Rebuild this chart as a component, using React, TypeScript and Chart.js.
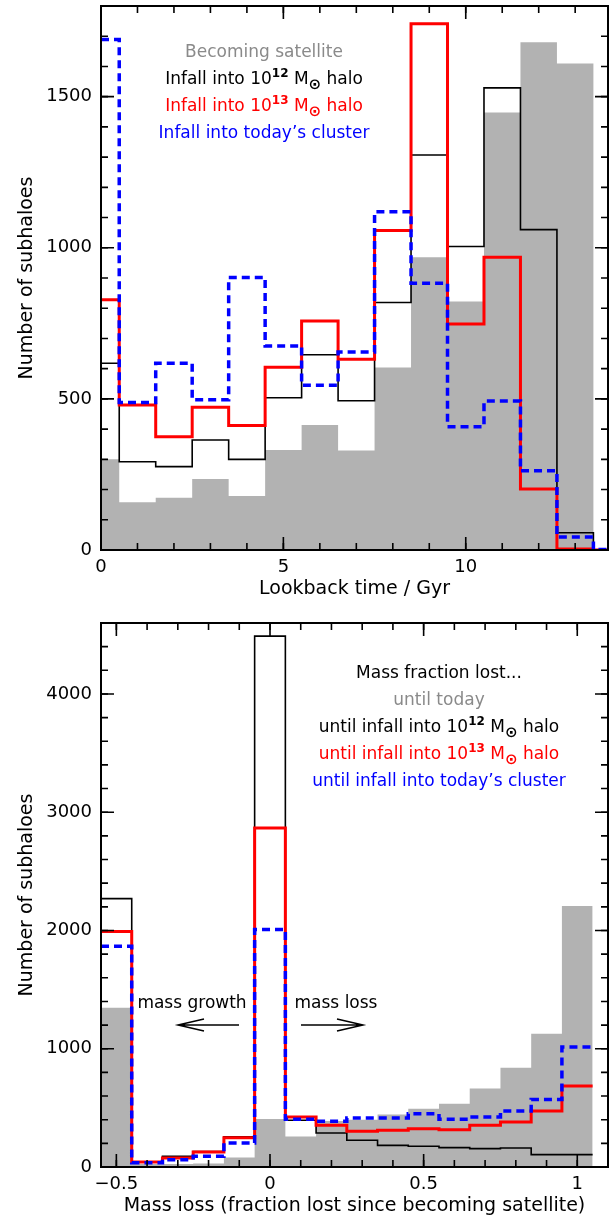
import React, { useEffect, useRef } from "react";
import { Chart, registerables } from "chart.js";

Chart.register(...registerables);

// ---------- Top panel: lookback time histograms (bin width 1 Gyr) ----------
const timeBins = [0, 1, 2, 3, 4, 5, 6, 7, 8, 9, 10, 11, 12, 13, 14];
const timeSatellite = [300, 158, 173, 235, 179, 331, 414, 329, 604, 969, 822, 1448, 1680, 1610, 0];
const time1e12 = [618, 292, 276, 364, 300, 504, 646, 494, 819, 1307, 1004, 1529, 1060, 57, 0];
const time1e13 = [828, 480, 375, 472, 412, 605, 758, 631, 1057, 1741, 748, 969, 202, 3, 0];
const timeCluster = [1689, 488, 618, 497, 902, 675, 545, 655, 1119, 883, 408, 493, 262, 43, 2];
const timeXTicks = [0, 5, 10];
const timeYTicks = [0, 500, 1000, 1500];

// ---------- Bottom panel: mass loss histograms (bin width 0.1) ----------
const massBins = [-0.5, -0.4, -0.3, -0.2, -0.1, 0.0, 0.1, 0.2, 0.3, 0.4, 0.5, 0.6, 0.7, 0.8, 0.9, 1.0];
const massToday = [1347, 25, 25, 30, 80, 405, 257, 390, 400, 443, 493, 535, 663, 840, 1127, 2206];
const mass1e12 = [2269, 40, 90, 130, 255, 4489, 395, 288, 226, 183, 175, 164, 155, 161, 105, 105];
const mass1e13 = [1992, 42, 76, 127, 248, 2866, 423, 352, 302, 310, 324, 316, 352, 381, 474, 685];
const massCluster = [1866, 35, 62, 90, 203, 2009, 403, 386, 414, 414, 451, 403, 423, 474, 570, 1014];
const massXTicks = [-0.5, 0, 0.5, 1];
const massYTicks = [0, 1000, 2000, 3000, 4000];

const GRAY_FILL = "#b2b2b2";
const GRAY_TEXT = "#8a8a8a";
const FONT = '"DejaVu Sans", sans-serif';

type Seg = { t: string; sup?: boolean; sub?: boolean };
type Line = { segs: Seg[]; color: string };

const topLegend: Line[] = [
  { segs: [{ t: "Becoming satellite" }], color: GRAY_TEXT },
  { segs: [{ t: "Infall into 10" }, { t: "12", sup: true }, { t: " M" }, { t: "\u2299", sub: true }, { t: " halo" }], color: "#000000" },
  { segs: [{ t: "Infall into 10" }, { t: "13", sup: true }, { t: " M" }, { t: "\u2299", sub: true }, { t: " halo" }], color: "#ff0000" },
  { segs: [{ t: "Infall into today\u2019s cluster" }], color: "#0000ff" },
];
const bottomLegend: Line[] = [
  { segs: [{ t: "Mass fraction lost..." }], color: "#000000" },
  { segs: [{ t: "until today" }], color: GRAY_TEXT },
  { segs: [{ t: "until infall into 10" }, { t: "12", sup: true }, { t: " M" }, { t: "\u2299", sub: true }, { t: " halo" }], color: "#000000" },
  { segs: [{ t: "until infall into 10" }, { t: "13", sup: true }, { t: " M" }, { t: "\u2299", sub: true }, { t: " halo" }], color: "#ff0000" },
  { segs: [{ t: "until infall into today\u2019s cluster" }], color: "#0000ff" },
];

function stepPoints(centers: number[], values: number[], width: number, lo: number, hi: number) {
  const pts = centers.map((c, i) => ({ x: Math.max(c - width / 2, lo), y: values[i] }));
  const last = centers.length - 1;
  pts.push({ x: Math.min(centers[last] + width / 2, hi), y: values[last] });
  return pts;
}

function fmt(v: number) {
  if (v < 0) return "\u2212" + String(-v);
  return String(v);
}

function drawRich(ctx: CanvasRenderingContext2D, line: Line, cx: number, baseline: number, size: number) {
  const main = `${size}px ${FONT}`;
  const sup = `bold ${Math.round(size * 0.72)}px ${FONT}`;
  const sub = `bold ${Math.round(size * 0.9)}px ${FONT}`;
  const fontOf = (s: Seg) => (s.sup ? sup : s.sub ? sub : main);
  let total = 0;
  const widths = line.segs.map((s) => {
    ctx.font = fontOf(s);
    const w = ctx.measureText(s.t).width;
    total += w;
    return w;
  });
  let x = cx - total / 2;
  ctx.fillStyle = line.color;
  ctx.textAlign = "left";
  ctx.textBaseline = "alphabetic";
  line.segs.forEach((s, i) => {
    ctx.font = fontOf(s);
    const dy = s.sup ? -size * 0.4 : s.sub ? size * 0.3 : 0;
    ctx.fillText(s.t, x, baseline + dy);
    x += widths[i];
  });
}

type PanelCfg = {
  xMajor: number[];
  xMinorStep: number;
  xMinorFrom: number;
  yMajor: number[];
  yMinorStep: number;
  xTitle: string;
  yTitle: string;
  legend: Line[];
  legendX: number;
  legendY0: number;
  legendDy: number;
  extra?: (ctx: CanvasRenderingContext2D) => void;
};

function framePlugin(cfg: PanelCfg) {
  return {
    id: "frame",
    afterDraw(chart: any) {
      const { ctx, chartArea: a, scales } = chart;
      const xs = scales.x;
      const ys = scales.y;
      ctx.save();
      ctx.strokeStyle = "#000";
      ctx.lineWidth = 1.6;
      const majorLen = 13;
      const minorLen = 7;
      const xMinors: number[] = [];
      for (let v = cfg.xMinorFrom; v <= xs.max + 1e-9; v += cfg.xMinorStep) xMinors.push(Math.round(v * 1000) / 1000);
      const drawX = (v: number, len: number) => {
        const px = xs.getPixelForValue(v);
        if (px < a.left + 1 || px > a.right - 1) return;
        ctx.beginPath();
        ctx.moveTo(px, a.bottom);
        ctx.lineTo(px, a.bottom - len);
        ctx.moveTo(px, a.top);
        ctx.lineTo(px, a.top + len);
        ctx.stroke();
      };
      xMinors.forEach((v) => drawX(v, minorLen));
      cfg.xMajor.forEach((v) => drawX(v, majorLen));
      const drawY = (v: number, len: number) => {
        const py = ys.getPixelForValue(v);
        if (py < a.top + 1 || py > a.bottom - 1) return;
        ctx.beginPath();
        ctx.moveTo(a.left, py);
        ctx.lineTo(a.left + len, py);
        ctx.moveTo(a.right, py);
        ctx.lineTo(a.right - len, py);
        ctx.stroke();
      };
      for (let v = 0; v <= ys.max; v += cfg.yMinorStep) drawY(v, minorLen);
      cfg.yMajor.forEach((v) => drawY(v, majorLen));
      ctx.lineWidth = 2;
      ctx.strokeRect(a.left, a.top, a.right - a.left, a.bottom - a.top);
      ctx.fillStyle = "#000";
      ctx.font = `18px ${FONT}`;
      ctx.textAlign = "center";
      ctx.textBaseline = "middle";
      cfg.xMajor.forEach((v) => ctx.fillText(fmt(v), xs.getPixelForValue(v), a.bottom + 17));
      ctx.textAlign = "right";
      cfg.yMajor.forEach((v) => ctx.fillText(fmt(v), a.left - 9, ys.getPixelForValue(v)));
      ctx.font = `19px ${FONT}`;
      ctx.textAlign = "center";
      ctx.fillText(cfg.xTitle, (a.left + a.right) / 2, a.bottom + 39);
      ctx.save();
      ctx.translate(27, (a.top + a.bottom) / 2);
      ctx.rotate(-Math.PI / 2);
      ctx.fillText(cfg.yTitle, 0, 0);
      ctx.restore();
      cfg.legend.forEach((ln, i) => drawRich(ctx, ln, cfg.legendX, cfg.legendY0 + i * cfg.legendDy, 17));
      if (cfg.extra) cfg.extra(ctx);
      ctx.restore();
    },
  };
}

function makeDatasets(centers: number[], width: number, lo: number, hi: number, gray: number[], black: number[], red: number[], blue: number[]) {
  return [
    {
      data: stepPoints(centers, blue, width, lo, hi),
      borderColor: "#0000ff",
      borderWidth: 3.5,
      borderDash: [8, 5],
      stepped: true,
      pointRadius: 0,
      fill: false,
      order: 0,
    },
    {
      data: stepPoints(centers, red, width, lo, hi),
      borderColor: "#ff0000",
      borderWidth: 3,
      stepped: true,
      pointRadius: 0,
      fill: false,
      order: 1,
    },
    {
      data: stepPoints(centers, black, width, lo, hi),
      borderColor: "#000000",
      borderWidth: 1.6,
      stepped: true,
      pointRadius: 0,
      fill: false,
      order: 2,
    },
    {
      data: stepPoints(centers, gray, width, lo, hi),
      borderColor: "rgba(0,0,0,0)",
      borderWidth: 0,
      backgroundColor: GRAY_FILL,
      stepped: true,
      pointRadius: 0,
      fill: "origin",
      order: 3,
    },
  ];
}

function arrow(ctx: CanvasRenderingContext2D, x0: number, x1: number, y: number) {
  const dir = x1 > x0 ? 1 : -1;
  ctx.strokeStyle = "#000";
  ctx.lineWidth = 1.5;
  ctx.beginPath();
  ctx.moveTo(x0, y);
  ctx.lineTo(x1, y);
  ctx.moveTo(x1 - dir * 26, y - 6);
  ctx.lineTo(x1, y);
  ctx.lineTo(x1 - dir * 26, y + 6);
  ctx.stroke();
}

export default function App() {
  const topRef = useRef<HTMLCanvasElement>(null);
  const botRef = useRef<HTMLCanvasElement>(null);

  useEffect(() => {
    const tXmin = 0, tXmax = 13.9;
    const mXmin = -0.55, mXmax = 1.1;
    const top = new Chart(topRef.current as HTMLCanvasElement, {
      type: "line",
      data: { datasets: makeDatasets(timeBins, 1, tXmin, tXmax, timeSatellite, time1e12, time1e13, timeCluster) as any },
      options: {
        animation: false,
        responsive: false,
        layout: { padding: { left: 101, right: 4, top: 6, bottom: 61 } },
        scales: {
          x: { type: "linear", min: tXmin, max: tXmax, display: false },
          y: { type: "linear", min: 0, max: 1800, display: false },
        },
        plugins: { legend: { display: false }, tooltip: { enabled: false } },
      },
      plugins: [
        framePlugin({
          xMajor: timeXTicks,
          xMinorStep: 1,
          xMinorFrom: 0,
          yMajor: timeYTicks,
          yMinorStep: 100,
          xTitle: "Lookback time / Gyr",
          yTitle: "Number of subhaloes",
          legend: topLegend,
          legendX: 264,
          legendY0: 57,
          legendDy: 27,
        }),
      ],
    });
    const bot = new Chart(botRef.current as HTMLCanvasElement, {
      type: "line",
      data: { datasets: makeDatasets(massBins, 0.1, mXmin, mXmax, massToday, mass1e12, mass1e13, massCluster) as any },
      options: {
        animation: false,
        responsive: false,
        layout: { padding: { left: 101, right: 4, top: 12, bottom: 55 } },
        scales: {
          x: { type: "linear", min: mXmin, max: mXmax, display: false },
          y: { type: "linear", min: 0, max: 4600, display: false },
        },
        plugins: { legend: { display: false }, tooltip: { enabled: false } },
      },
      plugins: [
        framePlugin({
          xMajor: massXTicks,
          xMinorStep: 0.1,
          xMinorFrom: -0.5,
          yMajor: massYTicks,
          yMinorStep: 200,
          xTitle: "Mass loss (fraction lost since becoming satellite)",
          yTitle: "Number of subhaloes",
          legend: bottomLegend,
          legendX: 439,
          legendY0: 67,
          legendDy: 27,
          extra: (ctx) => {
            ctx.fillStyle = "#000";
            ctx.font = `17px ${FONT}`;
            ctx.textAlign = "center";
            ctx.textBaseline = "alphabetic";
            ctx.fillText("mass growth", 192, 397);
            ctx.fillText("mass loss", 336, 397);
            arrow(ctx, 239, 178, 414);
            arrow(ctx, 301, 363, 414);
          },
        }),
      ],
    });
    return () => {
      top.destroy();
      bot.destroy();
    };
  }, []);

  return (
    <div style={{ position: "absolute", left: 0, top: 0, width: 612, height: 1222, background: "#fff" }}>
      <canvas ref={topRef} width={612} height={611} style={{ position: "absolute", left: 0, top: 0, display: "block" }} />
      <canvas ref={botRef} width={612} height={611} style={{ position: "absolute", left: 0, top: 611, display: "block" }} />
    </div>
  );
}
